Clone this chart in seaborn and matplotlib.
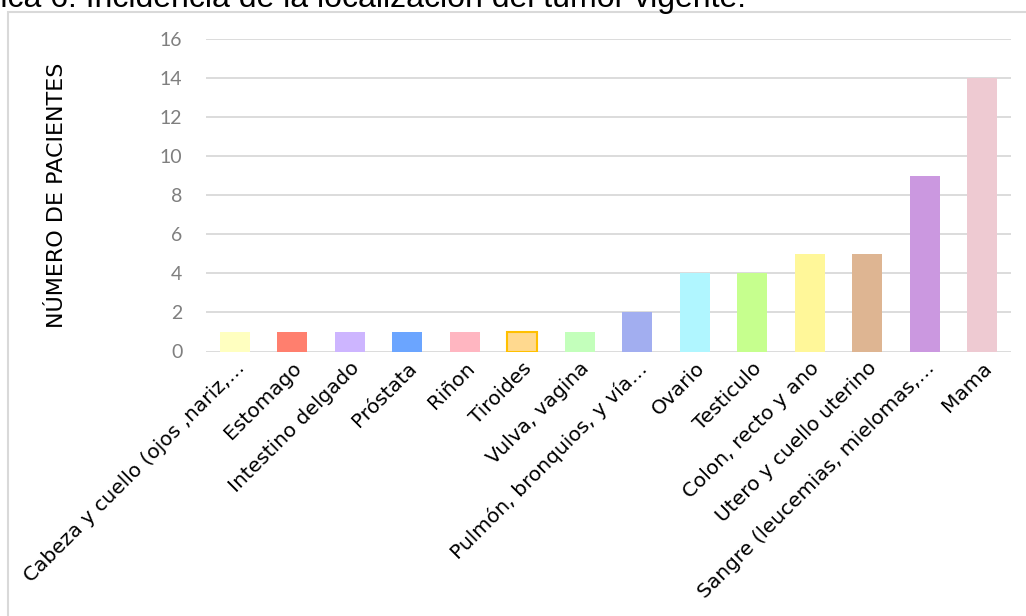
import matplotlib
matplotlib.use("Agg")
import matplotlib.pyplot as plt
import seaborn as sns
import pandas as pd
from matplotlib.patches import Rectangle

categories = [
    "Cabeza y cuello (ojos ,nariz,…",
    "Estomago",
    "Intestino delgado",
    "Próstata",
    "Riñon",
    "Tiroides",
    "Vulva, vagina",
    "Pulmón, bronquios, y vía…",
    "Ovario",
    "Testiculo",
    "Colon, recto y ano",
    "Utero y cuello uterino",
    "Sangre (leucemias, mielomas,…",
    "Mama",
]
values = [1, 1, 1, 1, 1, 1, 1, 2, 4, 4, 5, 5, 9, 14]
colors = ["#FFFFC0", "#FF7F6E", "#CDB5FF", "#6BA5FF", "#FFB6C1", "#FFD98F",
          "#C3FFBB", "#A2AEF0", "#B0F6FF", "#C6FF8E", "#FFF799", "#DEB592",
          "#CB98E0", "#EECAD2"]
y_ticks = [0, 2, 4, 6, 8, 10, 12, 14, 16]

df = pd.DataFrame({"cat": categories, "val": values})

sns.set_theme(style="white")
plt.rcParams['font.family'] = ['DejaVu Sans']

fig = plt.figure(figsize=(10.26, 6.16), dpi=100)
ax = fig.add_axes([206/1026, 1-351.5/616, 805/1026, 312.5/616])

sns.barplot(data=df, x="cat", y="val", hue="cat", palette=colors,
            legend=False, width=0.53, ax=ax, zorder=3, linewidth=0,
            saturation=1)
# Tiroides has an orange outline
for i, p in enumerate(ax.patches):
    if categories[i] == "Tiroides":
        p.set_edgecolor("#FFC000")
        p.set_linewidth(1.5)

ax.set_ylim(0, 16)
ax.set_xlim(-0.5, len(categories) - 0.5)
ax.set_yticks(y_ticks)
ax.set_yticklabels([str(t) for t in y_ticks], fontsize=14, color="#7F7F7F",
                   family="Lato")
ax.yaxis.grid(True, color="#D9D9D9", linewidth=1.3, zorder=0)
ax.set_axisbelow(True)
for s in ax.spines.values():
    s.set_visible(False)
ax.tick_params(axis="both", length=0)
ax.tick_params(axis="y", pad=17)
ax.set_xticks(range(len(categories)))
ax.set_xticklabels(categories, rotation=45, ha="right", rotation_mode="anchor",
                   fontsize=14.5, color="#000000")
ax.tick_params(axis="x", pad=5)
ax.set_xlabel("")
ax.set_ylabel("")
fig.text(57/1026, 1-195/616, "NÚMERO DE PACIENTES", rotation=90,
         ha="center", va="center", fontsize=16, color="#000000")

# outer border of chart area
fig.patches.append(Rectangle((8/1026, -0.1), 1.2, 1-11.5/616+0.1,
                             transform=fig.transFigure, fill=False,
                             edgecolor="#D9D9D9", linewidth=1.5))

fig.text(-62/1026, 1-7.5/616,
         "Gráfica 6. Incidencia de la localización del tumor vigente.",
         ha="left", va="baseline", fontsize=23, color="#000000",
         family="Liberation Sans")

fig.savefig("out.png", dpi=100)
